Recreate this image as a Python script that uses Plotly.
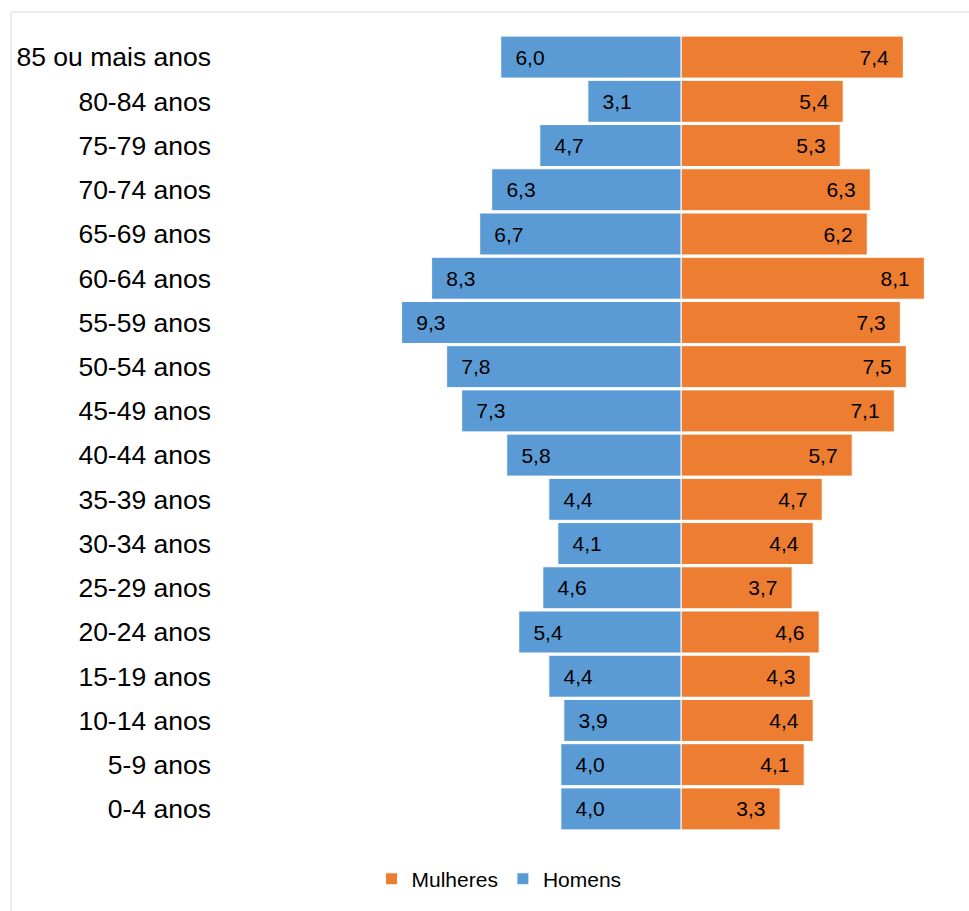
import plotly.graph_objects as go

# Age groups, youngest first (plotted bottom to top)
faixas = ["0-4 anos", "5-9 anos", "10-14 anos", "15-19 anos", "20-24 anos",
          "25-29 anos", "30-34 anos", "35-39 anos", "40-44 anos", "45-49 anos",
          "50-54 anos", "55-59 anos", "60-64 anos", "65-69 anos", "70-74 anos",
          "75-79 anos", "80-84 anos", "85 ou mais anos"]

# Percentages per age group
homens = [4.0, 4.0, 3.9, 4.4, 5.4, 4.6, 4.1, 4.4, 5.8, 7.3,
          7.8, 9.3, 8.3, 6.7, 6.3, 4.7, 3.1, 6.0]
mulheres = [3.3, 4.1, 4.4, 4.3, 4.6, 3.7, 4.4, 4.7, 5.7, 7.1,
            7.5, 7.3, 8.1, 6.2, 6.3, 5.3, 5.4, 7.4]

AZUL = "#5B9BD5"
LARANJA = "#ED7D31"
FONTE = "Liberation Sans, Arial, sans-serif"
PAD = "\u00a0\u00a0"


def rotulo(v):
    return f"{v:.1f}".replace(".", ",")


fig = go.Figure()
fig.add_trace(go.Bar(
    name="Mulheres", y=faixas, x=mulheres, orientation="h",
    marker=dict(color=LARANJA, line=dict(color="white", width=1)),
    text=[rotulo(v) + PAD for v in mulheres],
    textposition="inside", insidetextanchor="end", textangle=0,
    textfont=dict(family=FONTE, size=21, color="#000000"),
    hoverinfo="skip",
))
fig.add_trace(go.Bar(
    name="Homens", y=faixas, x=[-v for v in homens], orientation="h",
    marker=dict(color=AZUL, line=dict(color="white", width=1)),
    text=[PAD + rotulo(v) for v in homens],
    textposition="inside", insidetextanchor="end", textangle=0,
    textfont=dict(family=FONTE, size=21, color="#000000"),
    hoverinfo="skip",
))

# Light chart-area frame (top and left edges visible)
fig.add_shape(type="rect", xref="paper", yref="paper",
              x0=-0.2832, x1=2, y0=-2, y1=1.0289,
              line=dict(color="#D9D9D9", width=1), fillcolor="rgba(0,0,0,0)",
              layer="below")

fig.update_layout(
    width=969, height=911,
    margin=dict(l=218, r=20, t=35, b=80),
    paper_bgcolor="white", plot_bgcolor="white",
    barmode="relative", bargap=0.05,
    font=dict(family=FONTE, color="#000000"),
    uniformtext=dict(mode=False),
    xaxis=dict(range=[-15.41, 8.92], visible=False, fixedrange=True),
    yaxis=dict(type="category", categoryorder="array", categoryarray=faixas,
               range=[-0.5, 17.5], showgrid=False, zeroline=False,
               showline=False, ticks="", ticklabelstandoff=6,
               tickfont=dict(family=FONTE, size=26.5, color="#000000")),
    legend=dict(orientation="h", xref="container", yref="container",
                x=0.515, xanchor="center", y=0.035, yanchor="middle",
                font=dict(family=FONTE, size=21, color="#000000"),
                traceorder="normal", itemwidth=30),
    showlegend=True,
)

fig.write_html("out.html")
